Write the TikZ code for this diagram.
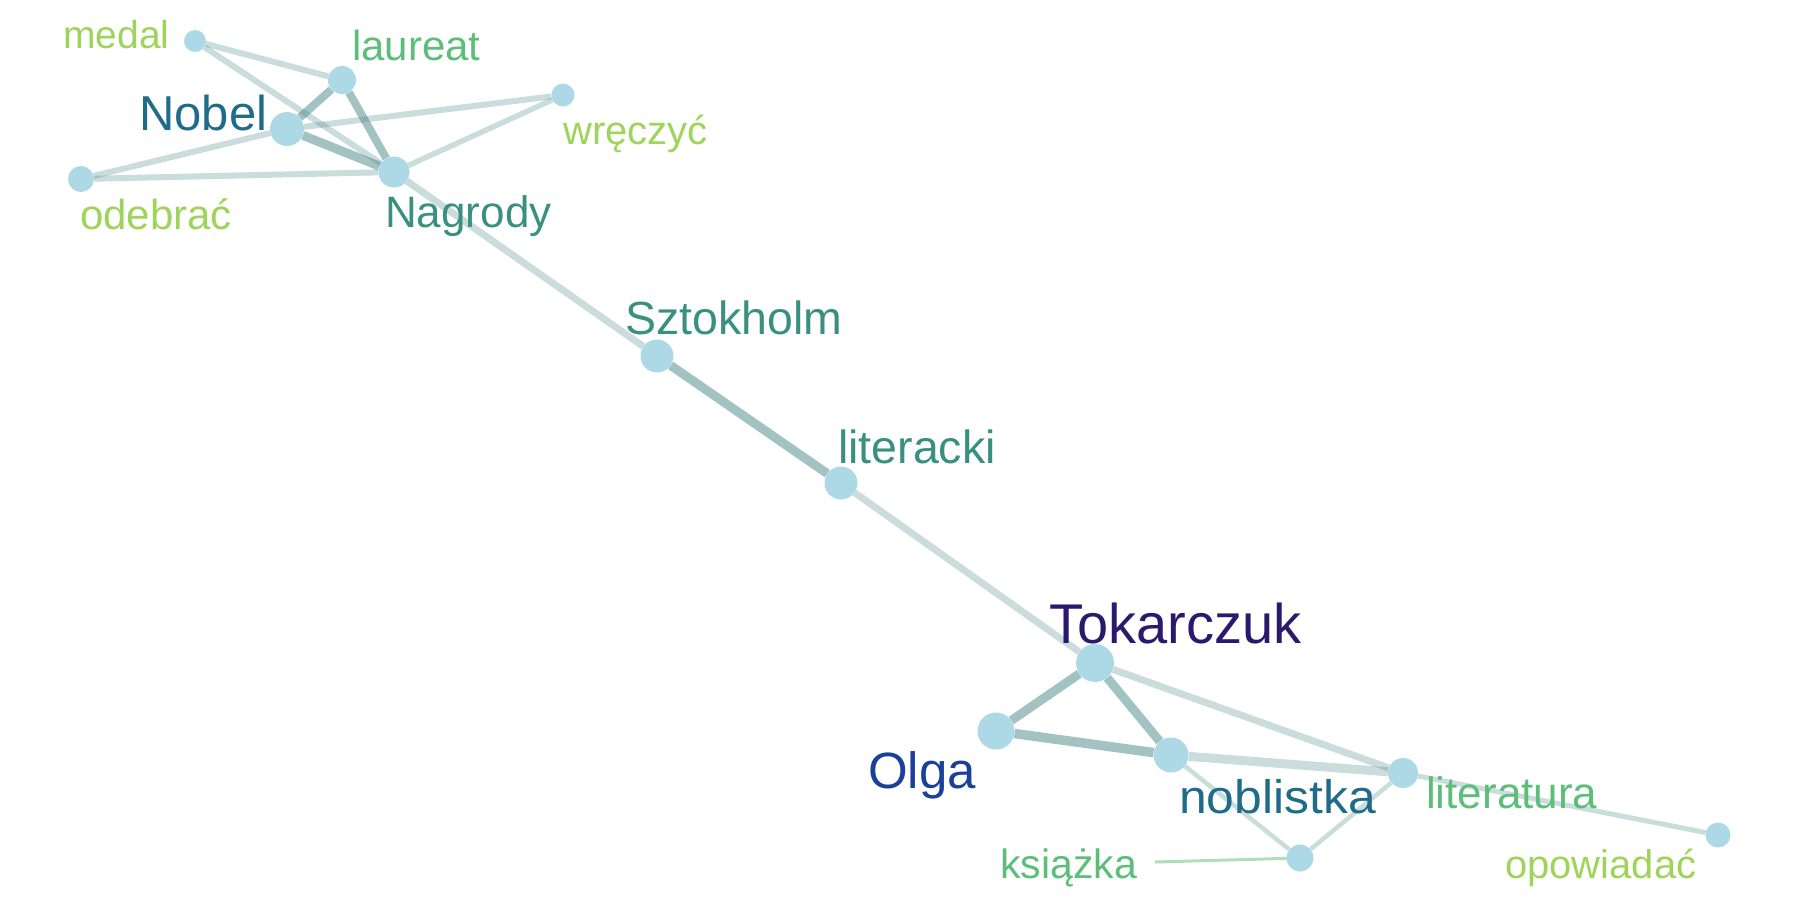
\documentclass[tikz,border=0pt]{standalone}
\usepackage{fontspec}
\setmainfont{Liberation Sans}
\usetikzlibrary{backgrounds}
\definecolor{vfill}{HTML}{ADD8E6}
\definecolor{ebase}{HTML}{4F8A8A}
\definecolor{cLG}{HTML}{9FD45B}
\definecolor{cG}{HTML}{5DBE7A}
\definecolor{cT}{HTML}{3A9080}
\definecolor{cB}{HTML}{1F6C8A}
\definecolor{cO}{HTML}{1B409A}
\definecolor{cP}{HTML}{2A1A6E}
\begin{document}
\begin{tikzpicture}[x=1pt,y=-1pt,
  vtx/.style={circle, fill=vfill, inner sep=0pt, minimum size=#1},
  lbl/.style={inner sep=0pt, anchor=base west},
  fs/.style={font=\fontsize{#1}{#1}\selectfont},
  eL/.style={draw=ebase, draw opacity=0.30, line width=#1},
  eD/.style={draw=ebase, draw opacity=0.52, line width=#1}]
\useasboundingbox (0,0) rectangle (1800,900);
% vertices
\node[vtx=22] (medal) at (195,41) {};
\node[vtx=28] (laureat) at (342,80) {};
\node[vtx=34] (nobel) at (287,129) {};
\node[vtx=23] (wreczyc) at (563,95) {};
\node[vtx=26] (odebrac) at (81,179) {};
\node[vtx=31] (nagrody) at (394,172) {};
\node[vtx=33] (sztokholm) at (657,356) {};
\node[vtx=33] (literacki) at (841,483) {};
\node[vtx=38] (tokarczuk) at (1095,663) {};
\node[vtx=37] (olga) at (996,731) {};
\node[vtx=35] (noblistka) at (1171,755) {};
\node[vtx=30] (literatura) at (1403,773) {};
\node[vtx=27] (ksiazka) at (1300,858) {};
\node[vtx=25] (opowiadac) at (1718,835) {};
% labels
\node[lbl, fs=39, text=cLG] (lmedal) at (63,48) {medal};
\node[lbl, fs=42, text=cG] (llaureat) at (352,60) {laureat};
\node[lbl, fs=49, text=cB] (lnobel) at (139,130) {Nobel};
\node[lbl, fs=40, text=cLG] (lwreczyc) at (563,144) {wręczyć};
\node[lbl, fs=42, text=cLG] (lodebrac) at (80,229) {odebrać};
\node[lbl, fs=44, text=cT] (lnagrody) at (385,227) {Nagrody};
\node[lbl, fs=46.5, text=cT] (lsztokholm) at (625,334) {Sztokholm};
\node[lbl, fs=46.5, text=cT] (lliteracki) at (838,463) {literacki};
\node[lbl, fs=56, text=cP] (ltokarczuk) at (1049,643) {Tokarczuk};
\node[lbl, fs=51, text=cO] (lolga) at (868,788) {Olga};
\node[lbl, fs=47, text=cB] (lnoblistka) at (1179,813) {\scalebox{1.06}[1]{noblistka}};
\node[lbl, fs=44, text=cG] (lliteratura) at (1426,808) {literatura};
\node[lbl, fs=41, text=cG] (lksiazka) at (1000,878) {książka};
\node[lbl, fs=40, text=cLG] (lopowiadac) at (1505,878) {opowiadać};
\coordinate (kslead) at (1155,862);
% edges
\begin{scope}[on background layer]
\draw[eL=6] (medal) -- (laureat);
\draw[eL=6] (medal) -- (nagrody);
\draw[eD=8] (laureat) -- (nobel);
\draw[eD=8] (laureat) -- (nagrody);
\draw[eD=9] (nobel) -- (nagrody);
\draw[eL=6] (nobel) -- (wreczyc);
\draw[eL=6] (nobel) -- (odebrac);
\draw[eL=6] (odebrac) -- (nagrody);
\draw[eL=5.5] (wreczyc) -- (nagrody);
\draw[eL=7] (nagrody) -- (sztokholm);
\draw[eD=9] (sztokholm) -- (literacki);
\draw[eL=7] (literacki) -- (tokarczuk);
\draw[eD=9] (tokarczuk) -- (olga);
\draw[eD=9] (tokarczuk) -- (noblistka);
\draw[eL=7] (tokarczuk) -- (literatura);
\draw[eD=9.5] (olga) -- (noblistka);
\draw[eL=9] (noblistka) -- (literatura);
\draw[eL=4.5] (noblistka) -- (ksiazka);
\draw[eL=4.5] (literatura) -- (ksiazka);
\draw[eL=5] (literatura) -- (opowiadac);
\draw[draw=cG, draw opacity=0.5, line width=3] (kslead) -- (ksiazka.center);
\end{scope}
\end{tikzpicture}
\end{document}
